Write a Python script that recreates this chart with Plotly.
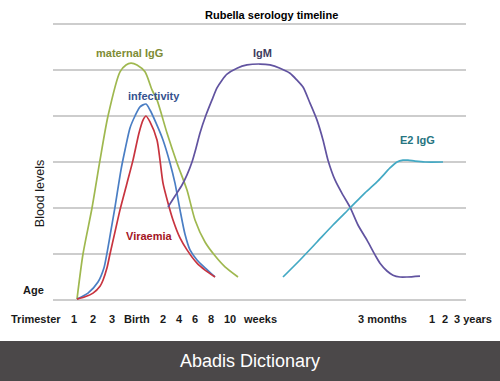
import plotly.graph_objects as go

# ---- data (timeline position units, blood level units) ----
maternal_x = [24, 30, 39, 47, 55, 67, 73, 78, 84, 92, 99, 104, 114, 124, 134, 142, 152, 162, 172, 185]
maternal_y = [0.02, 1.00, 2.00, 3.04, 4.00, 4.96, 5.11, 5.15, 5.11, 4.96, 4.57, 4.35, 3.63, 2.98, 2.39, 1.74, 1.26, 0.96, 0.72, 0.50]

infect_x = [24, 35, 45, 51, 54, 58, 62, 68, 72, 77, 82, 87, 93, 97, 103, 110, 117, 122, 127, 132, 137, 144, 152, 162]
infect_y = [0.02, 0.15, 0.39, 0.70, 1.02, 1.52, 2.02, 2.83, 3.26, 3.74, 4.00, 4.20, 4.26, 4.13, 3.85, 3.48, 2.98, 2.54, 1.96, 1.43, 1.09, 0.87, 0.70, 0.50]

viraemia_x = [24, 32, 40, 47, 50, 54, 57, 62, 67, 74, 80, 86, 90, 93, 97, 104, 107, 110, 115, 120, 127, 134, 144, 152, 162]
viraemia_y = [0.02, 0.07, 0.15, 0.30, 0.43, 0.70, 1.00, 1.48, 1.96, 2.54, 3.04, 3.63, 3.91, 4.00, 3.87, 3.48, 3.04, 2.54, 2.11, 1.74, 1.35, 1.09, 0.80, 0.65, 0.50]

igm_x = [115, 122, 129, 134, 139, 143, 147, 153, 159, 164, 169, 174, 184, 194, 207, 217, 227, 237, 244, 250, 257, 264, 270, 275, 282, 290, 297, 305, 314, 322, 327, 334, 340, 347, 354, 367]
igm_y = [2.02, 2.26, 2.50, 2.72, 3.00, 3.30, 3.63, 4.02, 4.35, 4.61, 4.78, 4.91, 5.04, 5.11, 5.13, 5.11, 5.04, 4.93, 4.78, 4.63, 4.28, 3.91, 3.48, 3.04, 2.61, 2.28, 2.02, 1.63, 1.30, 0.98, 0.80, 0.63, 0.54, 0.50, 0.50, 0.52]

e2_x = [230, 247, 264, 280, 297, 312, 325, 337, 344, 350, 355, 362, 372, 390]
e2_y = [0.50, 0.87, 1.26, 1.63, 2.00, 2.33, 2.59, 2.87, 3.00, 3.04, 3.04, 3.02, 3.00, 3.00]

tick_labels = ["Trimester", "1", "2", "3", "Birth", "2", "4", "6", "8", "10", "weeks", "3 months", "1", "2", "3 years"]
tick_pos = [-17, 21, 40, 59, 84, 110, 126, 142, 158, 177, 207, 329, 379, 392, 420]

X_RANGE = [0, 413]
Y_RANGE = [-0.022, 6.022]

series = [
    ("maternal IgG", maternal_x, maternal_y, "#9fb84f"),
    ("infectivity", infect_x, infect_y, "#4a7ec4"),
    ("Viraemia", viraemia_x, viraemia_y, "#c8343f"),
    ("IgM", igm_x, igm_y, "#6153a0"),
    ("E2 IgG", e2_x, e2_y, "#43a9c4"),
]

fig = go.Figure()
for name, xs, ys, col in series:
    fig.add_trace(go.Scatter(x=xs, y=ys, mode="lines", name=name,
                             line=dict(color=col, width=1.7, shape="spline", smoothing=0.7),
                             hoverinfo="skip"))

FONT = "Liberation Sans, Arial, sans-serif"


def px(x):
    return (x - X_RANGE[0]) / (X_RANGE[1] - X_RANGE[0])


def py(y):
    return (y - Y_RANGE[0]) / (Y_RANGE[1] - Y_RANGE[0])


anns = []


def add_text(text, x, y, size=11, color="#1a1a1a", bold=True, angle=0, data=False):
    anns.append(dict(
        text=text,
        x=x if data else px(x), y=y if data else py(y),
        xref="x" if data else "paper", yref="y" if data else "paper",
        xanchor="center", yanchor="middle", showarrow=False, textangle=angle,
        font=dict(family=FONT, size=size, color=color, weight="bold" if bold else "normal")))


# series labels
series_labels = [
    ("maternal IgG", 76, 5.37, "#7e8c34"),
    ("infectivity", 100.5, 4.43, "#35528f"),
    ("IgM", 209, 5.37, "#3d3b5e"),
    ("E2 IgG", 364, 3.48, "#267581"),
    ("Viraemia", 96, 1.39, "#a3141f"),
]
for txt, x, y, c in series_labels:
    add_text(txt, x, y, color=c, data=True)

# x-axis labels (placed along the timeline, below the plot)
for t, p in zip(tick_labels, tick_pos):
    add_text(t, p, -0.413)

# Age label and y title
add_text("Age", -20, 0.22)
add_text("Blood levels", -13, 2.30, size=12.5, bold=False, angle=-90)

# title
add_text("Rubella serology timeline", 218.5, 6.2, color="#000000")

# watermark banner text
add_text("Abadis Dictionary", 197, -1.33, size=18, color="#ffffff", bold=False)

fig.update_layout(
    width=500, height=381,
    margin=dict(l=53, r=34, t=23, b=80),
    paper_bgcolor="white", plot_bgcolor="white",
    showlegend=False,
    xaxis=dict(range=X_RANGE, showgrid=False, zeroline=False, showticklabels=False,
               ticks="", showline=False, fixedrange=True),
    yaxis=dict(range=Y_RANGE, tickvals=[0, 1, 2, 3, 4, 5, 6], showgrid=True,
               gridcolor="#cdcdcd", gridwidth=1.5, zeroline=False,
               showticklabels=False, ticks="", showline=False, fixedrange=True),
    annotations=anns,
    shapes=[dict(type="rect", xref="paper", yref="paper", x0=-0.2, x1=1.2,
                 y0=py(-0.891), y1=py(-1.80), fillcolor="#4b4849", line=dict(width=0),
                 layer="below")],
)

fig.write_html("out.html")
